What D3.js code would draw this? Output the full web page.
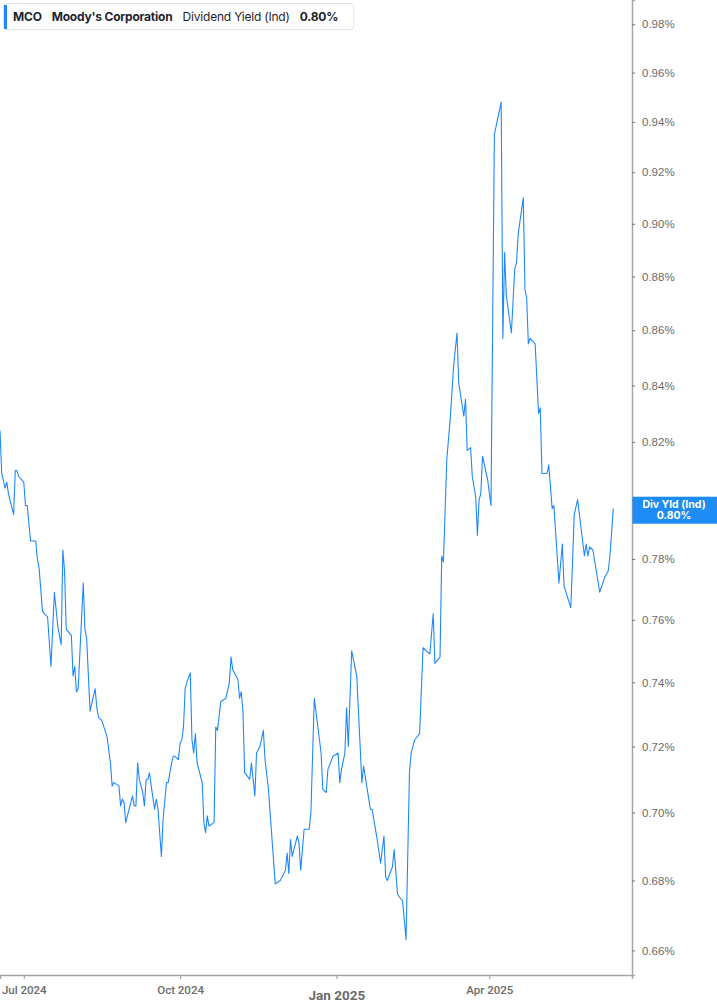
<!DOCTYPE html>
<html>
<head>
<meta charset="utf-8">
<script src="https://cdn.jsdelivr.net/npm/d3@7"></script>
<style>
  body { margin: 0; background: #fff; }
  svg { display: block; }
</style>
</head>
<body>
<div id="chart"></div>
<script>
// dividend yield (%), Jun 2024 - Jun 2025
var dates = ['2024-06-17','2024-06-18','2024-06-20','2024-06-21','2024-06-22','2024-06-25','2024-06-26','2024-06-27','2024-06-28',
  '2024-07-01','2024-07-02','2024-07-03','2024-07-05','2024-07-08','2024-07-09','2024-07-10','2024-07-12','2024-07-13','2024-07-15',
  '2024-07-17','2024-07-19','2024-07-21','2024-07-23','2024-07-24','2024-07-25','2024-07-26','2024-07-29','2024-07-30','2024-07-31',
  '2024-08-01','2024-08-02','2024-08-05','2024-08-06','2024-08-07','2024-08-09','2024-08-12','2024-08-13','2024-08-14','2024-08-16',
  '2024-08-19','2024-08-21','2024-08-22','2024-08-23','2024-08-26','2024-08-27','2024-08-28','2024-08-29','2024-08-30',
  '2024-09-01','2024-09-03','2024-09-04','2024-09-05','2024-09-06','2024-09-07','2024-09-09','2024-09-10','2024-09-11','2024-09-12',
  '2024-09-13','2024-09-14','2024-09-16','2024-09-17','2024-09-18','2024-09-20','2024-09-21','2024-09-23','2024-09-24','2024-09-26',
  '2024-09-27','2024-09-28','2024-09-30','2024-10-01','2024-10-02','2024-10-03','2024-10-04','2024-10-05','2024-10-07','2024-10-08',
  '2024-10-09','2024-10-10','2024-10-11','2024-10-14','2024-10-15','2024-10-16','2024-10-17','2024-10-18','2024-10-21','2024-10-22',
  '2024-10-23','2024-10-25','2024-10-28','2024-10-30','2024-10-31','2024-11-01','2024-11-04','2024-11-05','2024-11-06','2024-11-07',
  '2024-11-08','2024-11-11','2024-11-12','2024-11-14','2024-11-15','2024-11-17','2024-11-19','2024-11-20','2024-11-22','2024-11-26',
  '2024-11-29','2024-12-02','2024-12-03','2024-12-04','2024-12-05','2024-12-06','2024-12-09','2024-12-10','2024-12-11','2024-12-13',
  '2024-12-16','2024-12-17','2024-12-19','2024-12-23','2024-12-24','2024-12-26','2024-12-27','2024-12-30',
  '2025-01-02','2025-01-03','2025-01-04','2025-01-06','2025-01-07','2025-01-08','2025-01-10','2025-01-13','2025-01-16','2025-01-17',
  '2025-01-21','2025-01-22','2025-01-25','2025-01-27','2025-01-29','2025-01-30','2025-01-31','2025-02-03','2025-02-04','2025-02-06',
  '2025-02-09','2025-02-11','2025-02-13','2025-02-14','2025-02-16','2025-02-19','2025-02-21','2025-02-23','2025-02-25','2025-02-27',
  '2025-02-28','2025-03-03','2025-03-04','2025-03-05','2025-03-07','2025-03-09','2025-03-11','2025-03-13','2025-03-14','2025-03-17',
  '2025-03-18','2025-03-19','2025-03-21','2025-03-22','2025-03-24','2025-03-25','2025-03-26','2025-03-27','2025-03-28','2025-03-31',
  '2025-04-02','2025-04-04','2025-04-08','2025-04-09','2025-04-10','2025-04-11','2025-04-14','2025-04-16','2025-04-17','2025-04-18',
  '2025-04-21','2025-04-22','2025-04-23','2025-04-24','2025-04-25','2025-04-28','2025-04-30','2025-05-01','2025-05-02','2025-05-05',
  '2025-05-06','2025-05-08','2025-05-09','2025-05-12','2025-05-14','2025-05-15','2025-05-19','2025-05-21','2025-05-23','2025-05-27',
  '2025-05-28','2025-05-29','2025-05-30','2025-06-01','2025-06-05','2025-06-08','2025-06-10','2025-06-11','2025-06-13'];

var yields = [0.824,0.809,0.804,0.806,0.802,0.795,0.810,0.810,0.808,
  0.806,0.798,0.798,0.786,0.786,0.780,0.777,0.763,0.762,0.761,
  0.745,0.769,0.758,0.752,0.783,0.776,0.757,0.755,0.742,0.745,
  0.737,0.738,0.772,0.757,0.754,0.731,0.738,0.732,0.729,0.728,
  0.723,0.715,0.708,0.709,0.708,0.702,0.704,0.703,0.697,
  0.701,0.705,0.702,0.702,0.715,0.710,0.706,0.702,0.710,0.710,
  0.712,0.708,0.701,0.704,0.701,0.687,0.698,0.709,0.709,0.715,
  0.717,0.717,0.716,0.721,0.722,0.726,0.738,0.740,0.743,0.722,
  0.718,0.724,0.715,0.709,0.697,0.694,0.699,0.696,0.697,0.726,
  0.725,0.734,0.735,0.740,0.748,0.744,0.741,0.735,0.737,0.731,
  0.712,0.710,0.715,0.705,0.718,0.720,0.725,0.716,0.707,0.679,
  0.680,0.683,0.688,0.682,0.692,0.687,0.693,0.691,0.683,0.695,
  0.695,0.700,0.735,0.718,0.707,0.706,0.713,0.717,
  0.718,0.709,0.713,0.718,0.732,0.720,0.750,0.742,0.709,0.714,
  0.701,0.701,0.692,0.685,0.693,0.681,0.680,0.684,0.689,0.676,
  0.674,0.663,0.712,0.718,0.722,0.724,0.751,0.750,0.749,0.762,
  0.746,0.748,0.781,0.779,0.814,0.828,0.847,0.859,0.841,0.829,
  0.835,0.817,0.818,0.808,0.801,0.788,0.800,0.802,0.815,0.807,
  0.798,0.935,0.948,0.857,0.889,0.873,0.859,0.883,0.885,0.896,
  0.910,0.875,0.872,0.855,0.857,0.855,0.830,0.832,0.809,0.809,
  0.812,0.797,0.798,0.772,0.785,0.771,0.764,0.795,0.800,0.781,
  0.785,0.781,0.784,0.783,0.769,0.774,0.776,0.781,0.797];

var yTicks = [0.66,0.68,0.70,0.72,0.74,0.76,0.78,0.80,0.82,0.84,0.86,0.88,0.90,0.92,0.94,0.96,0.98];
var xTicks = ['2024-07-01','2024-10-01','2025-01-01','2025-04-01'];
var legendLabels = ['MCO', "Moody's Corporation", 'Dividend Yield (Ind)', '0.80%'];
var lastLabel = 'Div Yld (Ind)';
var lastValue = 0.80;

var width = 717, height = 1005;
var plotW = 632, plotH = 975;
var lineColor = '#1e88fa';
var axisColor = '#a6a6a6';
var textColor = '#6b6b6b';

var parse = d3.timeParse('%Y-%m-%d');
var data = dates.map(function (d, i) { return {date: parse(d), value: yields[i]}; });

var svg = d3.select('#chart')
  .append('svg')
  .attr('width', width)
  .attr('height', height);

var x = d3.scaleTime()
  .domain([parse('2024-06-17'), parse('2025-06-24')])
  .range([0, plotW]);

var y = d3.scaleLog()
  .domain([0.6531, 0.9902])
  .range([plotH, 0]);

svg.append('defs').append('clipPath').attr('id', 'clip')
  .append('rect').attr('x', 0).attr('y', 0).attr('width', plotW).attr('height', plotH);

var line = d3.line()
  .x(function (d) { return x(d.date); })
  .y(function (d) { return y(d.value); });

svg.append('path')
  .datum(data)
  .attr('clip-path', 'url(#clip)')
  .attr('fill', 'none')
  .attr('stroke', lineColor)
  .attr('stroke-width', 1.1)
  .attr('stroke-linejoin', 'round')
  .attr('d', line);

// right axis (label for the last value sits under the tag, so it is left out)
var yAxis = d3.axisRight(y)
  .tickValues(yTicks)
  .tickSize(3)
  .tickPadding(7)
  .tickFormat(function (d) { return Math.abs(d - lastValue) < 1e-9 ? '' : d.toFixed(2) + '%'; });

var gy = svg.append('g')
  .attr('transform', 'translate(' + plotW + ',0)')
  .call(yAxis);
gy.select('.domain').attr('stroke', axisColor).attr('stroke-width', 1.5);
gy.selectAll('.tick line').attr('stroke', '#777');
gy.selectAll('.tick text')
  .attr('fill', textColor)
  .attr('font-family', 'Liberation Sans, Arial, sans-serif')
  .attr('font-size', 11.5);

// bottom axis
var xAxis = d3.axisBottom(x)
  .tickValues(xTicks.map(parse))
  .tickSize(4)
  .tickPadding(7)
  .tickFormat(d3.timeFormat('%b %Y'));

var gx = svg.append('g')
  .attr('transform', 'translate(0,' + plotH + ')')
  .call(xAxis);
gx.select('.domain').attr('stroke', axisColor).attr('stroke-width', 1.5);
gx.selectAll('.tick line').attr('stroke', '#999');
gx.selectAll('.tick text')
  .attr('fill', textColor)
  .attr('font-family', 'Roboto, sans-serif')
  .attr('font-weight', function (d) { return d.getMonth() === 0 ? 700 : 500; })
  .attr('font-size', function (d) { return d.getMonth() === 0 ? 13.5 : 11.5; })
  .attr('dy', function (d) { return d.getMonth() === 0 ? '1.0em' : '0.71em'; });

// last value tag
var tagY = y(lastValue);
var tag = svg.append('g');
tag.append('rect')
  .attr('x', plotW + 0.5)
  .attr('y', tagY - 3)
  .attr('width', width - plotW)
  .attr('height', 27)
  .attr('fill', '#1f8bf5');
tag.selectAll('text')
  .data([lastLabel, lastValue.toFixed(2) + '%'])
  .enter()
  .append('text')
  .attr('x', plotW + 42)
  .attr('y', function (d, i) { return tagY + 8 + i * 11; })
  .attr('text-anchor', 'middle')
  .attr('fill', '#fff')
  .attr('font-family', 'Inter, sans-serif')
  .attr('font-weight', 700)
  .attr('font-size', 10.5)
  .text(function (d) { return d; });

// legend box top-left
var legend = svg.append('g');
var legendBox = legend.append('rect')
  .attr('x', 3.5).attr('y', 3.5)
  .attr('height', 26)
  .attr('rx', 3)
  .attr('fill', '#fff')
  .attr('stroke', '#e3e3e3');
legend.append('rect')
  .attr('x', 4).attr('y', 5)
  .attr('width', 3).attr('height', 24)
  .attr('fill', lineColor);

var cursor = 13;
legend.selectAll('text')
  .data(legendLabels)
  .enter()
  .append('text')
  .attr('y', 21)
  .attr('fill', '#1f1f2e')
  .attr('font-family', 'Inter, sans-serif')
  .attr('font-size', 12)
  .attr('letter-spacing', -0.2)
  .attr('font-weight', function (d, i) { return i === 2 ? 400 : 700; })
  .text(function (d) { return d; })
  .each(function () {
    d3.select(this).attr('x', cursor);
    cursor += this.getComputedTextLength() + 10;
  });
legendBox.attr('width', cursor + 2);
</script>
</body>
</html>
